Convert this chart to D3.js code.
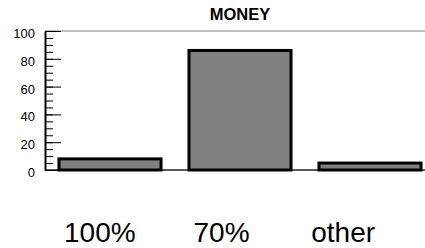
<!DOCTYPE html>
<html>
<head>
<meta charset="utf-8">
<script src="https://cdn.jsdelivr.net/npm/d3@7"></script>
<style>
  html, body { margin: 0; padding: 0; background: #fff; }
  svg { display: block; }
  text { font-family: Arial, "Liberation Sans", Helvetica, sans-serif; }
</style>
</head>
<body>
<svg id="chart" width="425" height="248"></svg>
<script>
const categories = ["100%", "70%", "other"];
const values = [8, 86, 5];
const majorTicks = [0, 20, 40, 60, 80, 100];
const minorTicks = d3.range(0, 101, 5);
const title = "MONEY";

const W = 425, H = 248;
const svg = d3.select("#chart");

const y = d3.scaleLinear().domain([0, 100]).range([170, 31]);
const x = d3.scaleBand().domain(categories).range([45, 435]).paddingInner(0.215).paddingOuter(0.1075);
const xLab = d3.scaleBand().domain(categories).range([39, 404]);

// top grey line
svg.append("line")
  .attr("x1", 45).attr("x2", W)
  .attr("y1", y(100)).attr("y2", y(100))
  .attr("stroke", "#aaa").attr("stroke-width", 1.5);

// baseline
svg.append("line")
  .attr("x1", 45).attr("x2", W)
  .attr("y1", y(0)).attr("y2", y(0))
  .attr("stroke", "#222").attr("stroke-width", 1.5);

// bars
svg.append("g").selectAll("rect")
  .data(categories)
  .join("rect")
  .attr("x", d => x(d))
  .attr("width", x.bandwidth())
  .attr("y", (d, i) => y(values[i]))
  .attr("height", (d, i) => y(0) - y(values[i]))
  .attr("fill", "#808080")
  .attr("stroke", "#000")
  .attr("stroke-width", 3);

// minor ticks
const minorAxis = d3.axisLeft(y).tickValues(minorTicks).tickSize(-8).tickFormat("");
svg.append("g").attr("transform", "translate(45,0)").call(minorAxis)
  .call(g => g.select(".domain").remove())
  .call(g => g.selectAll("line").attr("stroke", "#000").attr("stroke-width", 1));

// major ticks + labels
const yAxis = d3.axisLeft(y).tickValues(majorTicks).tickSize(-16).tickPadding(10).tickSizeOuter(0);
svg.append("g").attr("transform", "translate(45,0)").call(yAxis)
  .call(g => g.select(".domain").attr("stroke", "#000").attr("stroke-width", 2))
  .call(g => g.selectAll("line").attr("stroke", "#000").attr("stroke-width", 1))
  .call(g => g.selectAll("text")
    .attr("font-size", 13)
    .attr("fill", "#000")
    .attr("dy", "0.5em")
    .style("font-family", "Arial, 'Liberation Sans', sans-serif"));

// category labels
const xAxis = d3.axisBottom(xLab).tickSize(0).tickPadding(0);
svg.append("g").attr("transform", "translate(0,222)").call(xAxis)
  .call(g => g.select(".domain").remove())
  .call(g => g.selectAll("text")
    .attr("font-size", 28)
    .attr("fill", "#000")
    .attr("dy", "0.71em")
    .style("font-family", "Arial, 'Liberation Sans', sans-serif"));

// title
svg.append("text")
  .attr("x", 240).attr("y", 20)
  .attr("text-anchor", "middle")
  .attr("font-size", 16.5)
  .attr("font-weight", "bold")
  .text(title);
</script>
</body>
</html>
